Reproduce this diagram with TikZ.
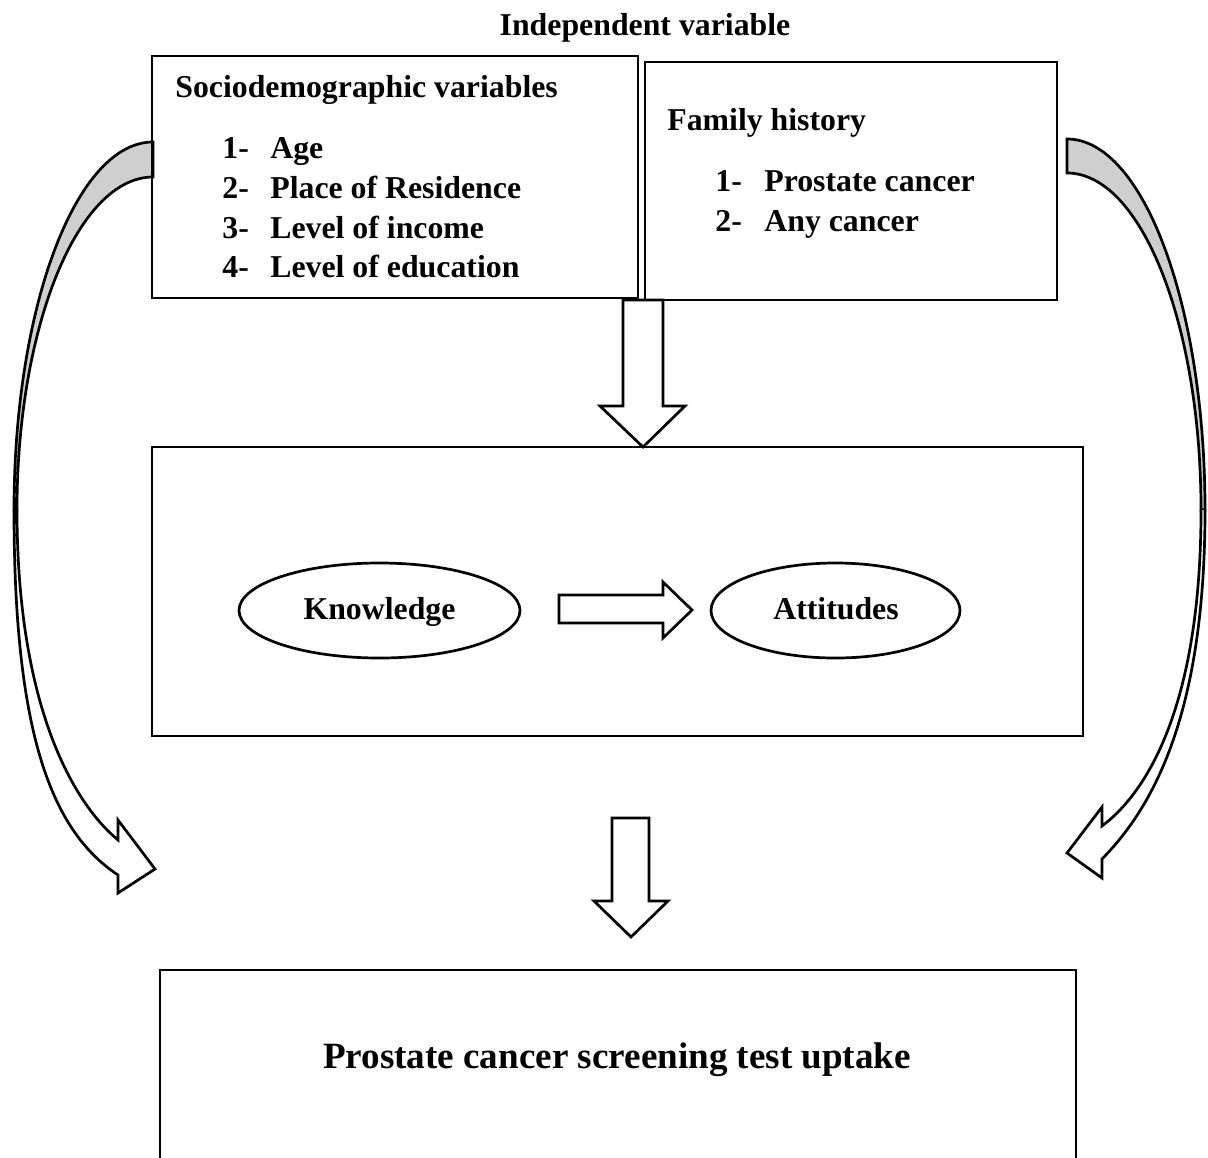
\documentclass[tikz,border=0pt]{standalone}
\usepackage{fontspec}
\setmainfont{Liberation Serif}
\usetikzlibrary{fit,shapes.geometric}
\tikzset{
  box/.style={draw, inner sep=0pt},
  txt/.style={font=\fontsize{15.9}{19}\selectfont\bfseries, inner sep=0pt, anchor=base west},
  bigtxt/.style={font=\fontsize{18.55}{22}\selectfont\bfseries, inner sep=0pt, anchor=base},
  oval/.style={draw, ellipse, inner sep=0pt, font=\fontsize{15.9}{19}\selectfont\bfseries},
  blockarrow/.style={draw, fill=white, line join=miter},
  backside/.style={draw, fill=black!19, line join=miter},
}
\begin{document}
\begin{tikzpicture}[x=0.5pt, y=-0.5pt, line width=1.35pt]
\useasboundingbox (0,0) rectangle (1208,1157);

% title
\node[txt, anchor=base] (title) at (645,35) {Independent variable};

% curved arrows (drawn first, boxes on top)
% left
\path[backside] (153,142) .. controls (76,142) and (14,307) .. (14,510)
  -- (17,510) .. controls (17,326) and (78,177) .. (153,177) -- cycle;
\path[blockarrow] (14,510) .. controls (14,730) and (50,830) .. (118,875)
  -- (118,893) -- (155,869) -- (118,820) -- (118,840)
  .. controls (70,800) and (17,700) .. (17,510);
% right
\path[backside] (1067,139) .. controls (1143,139) and (1205,305) .. (1205,510)
  -- (1201,510) .. controls (1201,324) and (1141,173) .. (1067,173) -- cycle;
\path[blockarrow] (1205,510) .. controls (1205,720) and (1150,810) .. (1102,859)
  -- (1102,878) -- (1067,853) -- (1102,807) -- (1102,826)
  .. controls (1150,790) and (1201,700) .. (1201,510);

% boxes
\node[box, fit={(152,56) (638,298)}] (socio) {};
\node[box, fit={(645,62) (1057,300)}] (family) {};
\node[box, fit={(152,447) (1083,736)}] (mid) {};
\node[box, fit={(160,970) (1076,1164)}] (outcome) {};

% socio text
\node[txt] (sh) at (174,97) {Sociodemographic variables};
\node[txt] (sn1) at (221,158) {1-};
\node[txt] (st1) at (269,158) {Age};
\node[txt] (sn2) at (221,198) {2-};
\node[txt] (st2) at (269,198) {Place of Residence};
\node[txt] (sn3) at (221,238) {3-};
\node[txt] (st3) at (269,238) {Level of income};
\node[txt] (sn4) at (221,277) {4-};
\node[txt] (st4) at (269,277) {Level of education};

% family text
\node[txt] (fh) at (666,130) {Family history};
\node[txt] (fn1) at (714,191) {1-};
\node[txt] (ft1) at (763,191) {Prostate cancer};
\node[txt] (fn2) at (714,231) {2-};
\node[txt] (ft2) at (763,231) {Any cancer};

% down arrow 1
\path[blockarrow] (623,300) -- (623,406) -- (600,406) -- (643,447)
  -- (685,406) -- (663,406) -- (663,300) -- cycle;

% ellipses
\node[oval, minimum width=140.5pt, minimum height=47.5pt] (know) at (379.5,610.5) {};
\node[txt, anchor=base] (knowt) at (379.5,619) {Knowledge};
\node[oval, minimum width=124.5pt, minimum height=47.5pt] (att) at (835.5,610.5) {};
\node[txt, anchor=base] (attt) at (836,619) {Attitudes};

% right arrow
\path[blockarrow] (559,595) -- (663,595) -- (663,582) -- (692,610)
  -- (663,638) -- (663,623) -- (559,623) -- cycle;

% down arrow 2
\path[blockarrow] (612,818) -- (612,901) -- (594,901) -- (631,937)
  -- (668,901) -- (649,901) -- (649,818) -- cycle;

% outcome text
\node[bigtxt] (outt) at (617,1068) {Prostate cancer screening test uptake};
\end{tikzpicture}
\end{document}
